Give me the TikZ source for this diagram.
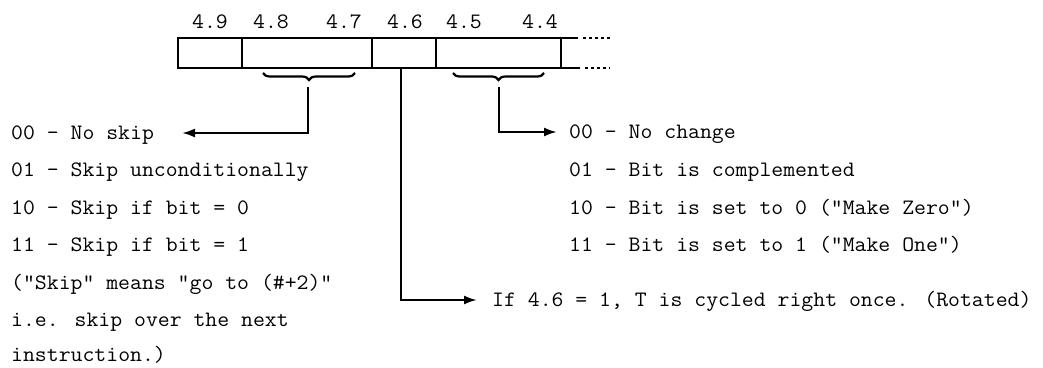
\documentclass[tikz,border=0pt]{standalone}
\usepackage{fontspec}
\newfontfamily\tw[FakeStretch=1.05]{Latin Modern Mono}
\usetikzlibrary{arrows.meta,decorations.pathreplacing}
\begin{document}
\begin{tikzpicture}[x=1pt,y=-1pt,
  txt/.style={font=\tw\fontsize{22}{22}\selectfont, inner sep=0pt, anchor=base west},
  lbl/.style={font=\tw\fontsize{22}{22}\selectfont, inner sep=0pt, anchor=base},
  cell/.style={draw, line width=2.2pt, minimum height=30pt, inner sep=0pt, outer sep=0pt, anchor=north west},
  conn/.style={line width=2.2pt},
  arr/.style={conn, -{Latex[length=13pt,width=9pt]}},
  brc/.style={decorate, decoration={brace, mirror, amplitude=7pt}, line width=2.2pt}]
\useasboundingbox (0,0) rectangle (1043,367);
% register
\node[cell, minimum width=64pt]  (c49)  at (178,38) {};
\node[cell, minimum width=130pt] (c487) at (242,38) {};
\node[cell, minimum width=64pt]  (c46)  at (372,38) {};
\node[cell, minimum width=125pt] (c454) at (436,38) {};
\coordinate (te1) at (578,38);
\coordinate (te2) at (583,38);
\coordinate (te3) at (610,38);
\coordinate (be1) at (580,68);
\coordinate (be2) at (585,68);
\coordinate (be3) at (610,68);
\draw[conn] (c454.north east) -- (te1);
\draw[conn] (c454.south east) -- (be1);
\draw[line width=1.8pt, dash pattern=on 3pt off 3pt] (te2) -- (te3);
\draw[line width=1.8pt, dash pattern=on 3pt off 3pt] (be2) -- (be3);
% bit labels
\node[lbl] (n49) at (210,28) {4.9};
\node[lbl] (n48) at (271,28) {4.8};
\node[lbl] (n47) at (344,28) {4.7};
\node[lbl] (n46) at (405,28) {4.6};
\node[lbl] (n45) at (464,28) {4.5};
\node[lbl] (n44) at (540,28) {4.4};
% braces
\draw[brc] (263,73) -- (355,73);
\draw[brc] (453,73) -- (544,73);
\coordinate (b1) at (308,87);
\coordinate (b2) at (499,87);
\coordinate (a1) at (182,133);
\coordinate (a2) at (557,132);
\coordinate (a3) at (477,300);
% left texts
\node[txt] (l1) at (11,139) {00 - No skip};
\node[txt] (l2) at (11,176.5) {01 - Skip unconditionally};
\node[txt] (l3) at (11,214) {10 - Skip if bit = 0};
\node[txt] (l4) at (11,251.5) {11 - Skip if bit = 1};
\node[txt] (l5) at (11,289) {("Skip" means "go to (\#+2)"};
\node[txt] (l6) at (11,326) {i.e. skip over the next};
\node[txt] (l7) at (11,361) {instruction.)};
% right texts
\node[txt] (r1) at (569,138.5) {00 - No change};
\node[txt] (r2) at (569,176.5) {01 - Bit is complemented};
\node[txt] (r3) at (569,214) {10 - Bit is set to 0 ("Make Zero")};
\node[txt] (r4) at (569,251.5) {11 - Bit is set to 1 ("Make One")};
\node[txt] (bt) at (492,306) {If 4.6 = 1, T is cycled right once. (Rotated)};
% connectors
\draw[arr] (b1) |- (a1);
\draw[arr] (b2) |- (a2);
\draw[arr] ([xshift=-3pt]c46.south) |- (a3);
\end{tikzpicture}
\end{document}
